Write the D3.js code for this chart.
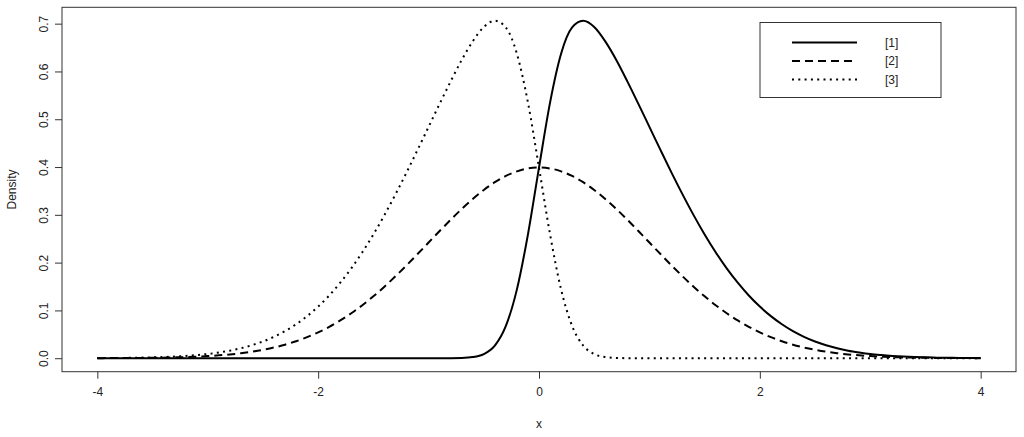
<!DOCTYPE html>
<html>
<head>
<meta charset="utf-8">
<title>density</title>
<script src="https://d3js.org/d3.v7.min.js"></script>
<style>
  body { margin: 0; background: white; }
  text { font-family: Arial, "Liberation Sans", sans-serif; fill: #222; }
</style>
</head>
<body>
<div id="my_dataviz"></div>
<script>

// x grid of the curves
var xs = [-4.0,-3.9,-3.8,-3.7,-3.6,-3.5,-3.4,-3.3,-3.2,-3.1,
  -3.0,-2.9,-2.8,-2.7,-2.6,-2.5,-2.4,-2.3,-2.2,-2.1,
  -2.0,-1.9,-1.8,-1.7,-1.6,-1.5,-1.4,-1.3,-1.2,-1.1,
  -1.0,-0.9,-0.8,-0.7,-0.6,-0.5,-0.4,-0.3,-0.2,-0.1,
  0.0,
  0.1,0.2,0.3,0.4,0.5,0.6,0.7,0.8,0.9,1.0,
  1.1,1.2,1.3,1.4,1.5,1.6,1.7,1.8,1.9,2.0,
  2.1,2.2,2.3,2.4,2.5,2.6,2.7,2.8,2.9,3.0,
  3.1,3.2,3.3,3.4,3.5,3.6,3.7,3.8,3.9,4.0];

// [1] solid (skewed right)
var dens1 = [0,0,0,0,0,0,0,0,0,0,
  0,0,0,0,0,0,0,0,0,0,
  0,0,0,0,0,0,0,0,0,0,
  0,0,0.0001,0.0005,0.0023,0.0086,0.0264,0.0675,0.1440,0.2592,
  0.3989,
  0.5348,0.6370,0.6920,0.7060,0.6930,0.6630,0.6241,0.5793,0.5322,0.4840,
  0.4358,0.3884,0.3428,0.2994,0.2590,0.2218,0.1880,0.1580,0.1312,0.1080,
  0.0880,0.0710,0.0566,0.0448,0.0350,0.0272,0.0208,0.0158,0.0120,0.0088,
  0.0066,0.0048,0.0034,0.0024,0.0018,0.0012,0.0008,0.0006,0.0004,0.0002];

// [2] dashed (symmetric)
var dens2 = [0.0001,0.0002,0.0003,0.0004,0.0006,0.0009,0.0012,0.0017,0.0024,0.0033,
  0.0044,0.0060,0.0079,0.0104,0.0136,0.0175,0.0224,0.0283,0.0355,0.0440,
  0.0540,0.0656,0.0790,0.0940,0.1109,0.1295,0.1497,0.1714,0.1942,0.2179,
  0.2420,0.2661,0.2897,0.3123,0.3332,0.3521,0.3683,0.3814,0.3910,0.3970,
  0.3989,
  0.3970,0.3910,0.3814,0.3683,0.3521,0.3332,0.3123,0.2897,0.2661,0.2420,
  0.2179,0.1942,0.1714,0.1497,0.1295,0.1109,0.0940,0.0790,0.0656,0.0540,
  0.0440,0.0355,0.0283,0.0224,0.0175,0.0136,0.0104,0.0079,0.0060,0.0044,
  0.0033,0.0024,0.0017,0.0012,0.0009,0.0006,0.0004,0.0003,0.0002,0.0001];

// [3] dotted (skewed left)
var dens3 = [0.0002,0.0004,0.0006,0.0008,0.0012,0.0018,0.0024,0.0034,0.0048,0.0066,
  0.0088,0.0120,0.0158,0.0208,0.0272,0.0350,0.0448,0.0566,0.0710,0.0880,
  0.1080,0.1312,0.1580,0.1880,0.2218,0.2590,0.2994,0.3428,0.3884,0.4358,
  0.4840,0.5322,0.5793,0.6241,0.6630,0.6930,0.7060,0.6920,0.6370,0.5348,
  0.3989,
  0.2592,0.1440,0.0675,0.0264,0.0086,0.0023,0.0005,0.0001,0,0,
  0,0,0,0,0,0,0,0,0,0,
  0,0,0,0,0,0,0,0,0,0,
  0,0,0,0,0,0,0,0,0,0];

var seriesNames = ["[1]", "[2]", "[3]"];
var xTicks = [-4, -2, 0, 2, 4];
var yTicks = [0, 0.1, 0.2, 0.3, 0.4, 0.5, 0.6, 0.7];

var width = 1024, height = 437;
var box = {left: 62, right: 1016, top: 7.3, bottom: 371.7};

var svg = d3.select("#my_dataviz")
  .append("svg")
    .attr("width", width)
    .attr("height", height);

// R style: 4% padding around the data range
var ymax = d3.max([d3.max(dens1), d3.max(dens2), d3.max(dens3)]);
var x = d3.scaleLinear().domain([-4.32, 4.32]).range([box.left, box.right]);
var y = d3.scaleLinear().domain([-0.04 * ymax, 1.04 * ymax]).range([box.bottom, box.top]);

var dashes = ["none", "8,5", "2,4.3"];
var allSeries = [dens1, dens2, dens3];

var line = d3.line()
  .x(function(d) { return x(d[0]); })
  .y(function(d) { return y(d[1]); })
  .curve(d3.curveMonotoneX);

allSeries.forEach(function(s, i) {
  svg.append("path")
    .datum(xs.map(function(v, j) { return [v, s[j]]; }))
    .attr("d", line)
    .attr("fill", "none")
    .attr("stroke", "black")
    .attr("stroke-width", 2)
    .attr("stroke-dasharray", dashes[i]);
});

// plot box
svg.append("rect")
  .attr("x", box.left).attr("y", box.top)
  .attr("width", box.right - box.left).attr("height", box.bottom - box.top)
  .attr("fill", "none").attr("stroke", "#333").attr("stroke-width", 1);

// x axis (plain hyphen for negatives, as in R)
var xAxis = svg.append("g")
  .attr("transform", "translate(0," + box.bottom + ")")
  .call(d3.axisBottom(x).tickValues(xTicks).tickSize(7).tickPadding(9).tickFormat(function(d) { return String(d); }));
xAxis.select(".domain").remove();
xAxis.selectAll("line").attr("stroke", "#333");
xAxis.selectAll("text").style("font-size", "12px").attr("fill", "#222").style("font-family", "Arial, 'Liberation Sans', sans-serif");

// y axis, labels turned like R
var yAxis = svg.append("g")
  .attr("transform", "translate(" + box.left + ",0)")
  .call(d3.axisLeft(y).tickValues(yTicks).tickSize(7).tickFormat(function(d) { return d.toFixed(1); }));
yAxis.select(".domain").remove();
yAxis.selectAll("line").attr("stroke", "#333");
yAxis.selectAll("text")
  .attr("x", null).attr("dy", null)
  .attr("text-anchor", "middle")
  .attr("transform", "translate(-18,0) rotate(-90)")
  .attr("dy", "0.35em")
  .attr("fill", "#222")
  .style("font-size", "12px")
  .style("font-family", "Arial, 'Liberation Sans', sans-serif");

// axis titles
svg.append("text").attr("x", x(0)).attr("y", 428).attr("text-anchor", "middle")
  .style("font-size", "12px").text("x");
svg.append("text").attr("transform", "translate(16," + (box.top + box.bottom) / 2 + ") rotate(-90)")
  .attr("text-anchor", "middle").style("font-size", "12px").text("Density");

// legend
svg.append("rect").attr("x", 760).attr("y", 22.5).attr("width", 181).attr("height", 75)
  .attr("fill", "white").attr("stroke", "#333").attr("stroke-width", 1);
var legY = [42.5, 61, 79.5];
seriesNames.forEach(function(n, i) {
  svg.append("line").attr("x1", 792).attr("x2", 857).attr("y1", legY[i]).attr("y2", legY[i])
    .attr("stroke", "black").attr("stroke-width", 2).attr("stroke-dasharray", dashes[i]);
  svg.append("text").attr("x", 885).attr("y", legY[i]).attr("dy", "0.35em")
    .style("font-size", "12px").text(n);
});

</script>
</body>
</html>
